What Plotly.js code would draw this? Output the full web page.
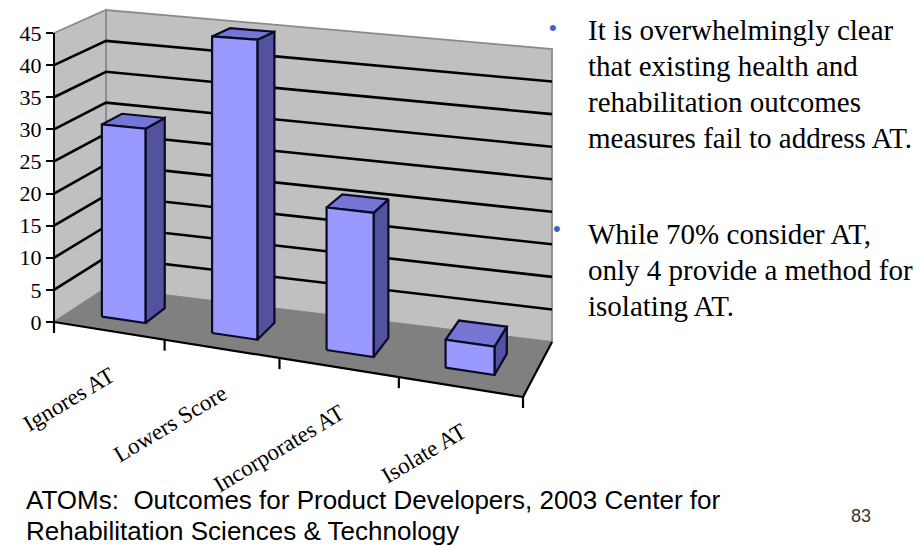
<!DOCTYPE html>
<html>
<head>
<meta charset="utf-8">
<script src="https://cdn.plot.ly/plotly-3.0.1.min.js"></script>
<style>html,body{margin:0;padding:0;background:#fff;}#chart{width:923px;height:546px;}</style>
</head>
<body>
<div id="chart"></div>
<script>
// ---------------- data ----------------
const categories = ["Ignores AT", "Lowers Score", "Incorporates AT", "Isolate AT"];
const counts = [30, 45, 21, 4];
const valueTicks = [0, 5, 10, 15, 20, 25, 30, 35, 40, 45];
const noteLines1 = ["It is overwhelmingly clear", "that existing health and", "rehabilitation outcomes", "measures fail to address AT."];
const noteLines2 = ["While 70% consider AT,", "only 4 provide a method for", "isolating AT."];
const sourceLines = ["ATOMs:\u00a0 Outcomes for Product Developers, 2003 Center for", "Rehabilitation Sciences & Technology"];
const pageNumber = "83";

// ---------------- geometry / style ----------------
const W = 923, H = 546;
const VMAX = valueTicks[valueTicks.length - 1];
const NCAT = categories.length;
const FRONT = {bl: [54, 322], tl: [54, 33], br: [523, 397], tr: [523, 64]};
const BACK  = {bl: [106, 288], tl: [106, 10], br: [552, 342], tr: [552, 49]};
const PERSP = 1.08;
const BAR_W = 0.4, BAR_D0 = 0.3, BAR_D1 = 0.7;
const SERIF = '"Liberation Serif", "Times New Roman", serif';
const SANS = '"Liberation Sans", Arial, sans-serif';

function bil(pl, t, s) {
  const bx = pl.bl[0] + (pl.br[0] - pl.bl[0]) * t, by = pl.bl[1] + (pl.br[1] - pl.bl[1]) * t;
  const tx = pl.tl[0] + (pl.tr[0] - pl.tl[0]) * t, ty = pl.tl[1] + (pl.tr[1] - pl.tl[1]) * t;
  return [bx + (tx - bx) * s, by + (ty - by) * s];
}
// u: category position (0..NCAT), v: value, w: depth (0 front .. 1 back)
function P(u, v, w) {
  const t0 = u / NCAT;
  const t = t0 / (t0 + PERSP * (1 - t0));
  const s = v / VMAX;
  const f = bil(FRONT, t, s), b = bil(BACK, t, s);
  return [f[0] + (b[0] - f[0]) * w, f[1] + (b[1] - f[1]) * w];
}
function paths(list) {
  const xs = [], ys = [];
  list.forEach(pts => {
    pts.forEach(p => { xs.push(p[0]); ys.push(p[1]); });
    xs.push(null); ys.push(null);
  });
  return {x: xs, y: ys};
}
function polyTrace(list, fill, lineColor, lineWidth) {
  const d = paths(list.map(p => p.concat([p[0]])));
  return {type: 'scatter', mode: 'lines', x: d.x, y: d.y, fill: 'toself', fillcolor: fill,
    line: {color: lineColor, width: lineWidth}, hoverinfo: 'skip', showlegend: false};
}
function lineTrace(list, color, width) {
  const d = paths(list);
  return {type: 'scatter', mode: 'lines', x: d.x, y: d.y, line: {color: color, width: width},
    hoverinfo: 'skip', showlegend: false};
}

const traces = [];
// walls and floor
traces.push(polyTrace([[P(0,0,1), P(NCAT,0,1), P(NCAT,VMAX,1), P(0,VMAX,1)]], '#c0c0c0', '#8a8a8a', 1.8));
traces.push(polyTrace([[P(0,0,0), P(0,0,1), P(0,VMAX,1), P(0,VMAX,0)]], '#c0c0c0', '#8a8a8a', 1.8));
traces.push(polyTrace([[P(0,0,0), P(NCAT,0,0), P(NCAT,0,1), P(0,0,1)]], '#808080', '#808080', 0.5));
// gridlines
const gridValues = valueTicks.filter(v => v > 0 && v < VMAX);
traces.push(lineTrace(gridValues.map(v => [P(0,v,0), P(0,v,1), P(NCAT,v,1)]), '#000000', 2.6));
// bars
const fronts = [], sides = [], tops = [];
counts.forEach((v, i) => {
  const u0 = i + 0.5 - BAR_W / 2, u1 = i + 0.5 + BAR_W / 2;
  fronts.push([P(u0,0,BAR_D0), P(u1,0,BAR_D0), P(u1,v,BAR_D0), P(u0,v,BAR_D0)]);
  sides.push([P(u1,0,BAR_D0), P(u1,0,BAR_D1), P(u1,v,BAR_D1), P(u1,v,BAR_D0)]);
  tops.push([P(u0,v,BAR_D0), P(u1,v,BAR_D0), P(u1,v,BAR_D1), P(u0,v,BAR_D1)]);
});
traces.push(polyTrace(sides, '#52529e', '#0a0a28', 2.2));
traces.push(polyTrace(tops, '#7575d4', '#0a0a28', 2.2));
traces.push(polyTrace(fronts, '#9999ff', '#0a0a28', 2.2));
// category axis line, ticks, floor right edge
const axisLines = [[P(0,0,0), P(NCAT,0,0)], [P(NCAT,0,0), P(NCAT,0,1)]];
for (let u = 0; u <= NCAT; u++) {
  const p = P(u, 0, 0);
  axisLines.push([p, [p[0], p[1] + 11]]);
}
traces.push(lineTrace(axisLines, '#000000', 2.2));
// value axis (drawn by the library's own axis)
traces.push({type: 'scatter', x: categories, y: counts, xaxis: 'x2', yaxis: 'y2', mode: 'markers',
  marker: {opacity: 0}, hoverinfo: 'skip', showlegend: false});

// ---------------- annotations ----------------
const annotations = [];
categories.forEach((c, i) => {
  const p = P(i + 0.5, 0, 0);
  annotations.push({x: p[0], y: p[1], xref: 'x', yref: 'y', text: c, showarrow: false, textangle: -31,
    xanchor: 'right', yanchor: 'top', xshift: 13, yshift: -29,
    font: {family: SERIF, size: 23, color: '#000'}});
});
const noteSize = 29;
const base1 = [40, 76, 112, 148], base2 = [244, 280, 316];
noteLines1.forEach((t, i) => annotations.push({x: 586, y: base1[i] - 0.34 * noteSize, xref: 'x', yref: 'y',
  text: t, showarrow: false, xanchor: 'left', yanchor: 'middle', font: {family: SERIF, size: noteSize, color: '#000'}}));
noteLines2.forEach((t, i) => annotations.push({x: 586, y: base2[i] - 0.34 * noteSize, xref: 'x', yref: 'y',
  text: t, showarrow: false, xanchor: 'left', yanchor: 'middle', font: {family: SERIF, size: noteSize, color: '#000'}}));
[[553, 27], [557, 228]].forEach(b => annotations.push({x: b[0], y: b[1], xref: 'x', yref: 'y', text: '\u2022',
  showarrow: false, xanchor: 'center', yanchor: 'middle', font: {family: SANS, size: 22, color: '#3d62c6'}}));
const srcSize = 26;
[509, 540].forEach((b, i) => annotations.push({x: 24, y: b - 0.35 * srcSize, xref: 'x', yref: 'y',
  text: sourceLines[i], showarrow: false, xanchor: 'left', yanchor: 'middle', font: {family: SANS, size: srcSize, color: '#000'}}));
annotations.push({x: 849, y: 522 - 0.35 * 18, xref: 'x', yref: 'y', text: pageNumber, showarrow: false,
  xanchor: 'left', yanchor: 'middle', font: {family: SANS, size: 18, color: '#333'}});

const layout = {
  width: W, height: H,
  margin: {l: 0, r: 0, t: 0, b: 0, pad: 0},
  paper_bgcolor: '#ffffff', plot_bgcolor: 'rgba(0,0,0,0)',
  showlegend: false,
  xaxis: {range: [0, W], visible: false, fixedrange: true},
  yaxis: {range: [H, 0], visible: false, fixedrange: true},
  xaxis2: {domain: [0, 0.04], visible: false, anchor: 'y2', fixedrange: true},
  yaxis2: {domain: [(H - FRONT.bl[1]) / H, (H - FRONT.tl[1]) / H], range: [0, VMAX],
    anchor: 'free', position: FRONT.bl[0] / W, side: 'left',
    tickvals: valueTicks, ticktext: valueTicks.map(String),
    ticks: 'outside', ticklen: 7, tickwidth: 2, tickcolor: '#000',
    showline: true, linewidth: 2, linecolor: '#000',
    showgrid: false, zeroline: false, fixedrange: true,
    tickfont: {family: SERIF, size: 22, color: '#000'}},
  annotations: annotations
};
Plotly.newPlot('chart', traces, layout, {displayModeBar: false, staticPlot: true});
</script>
</body>
</html>
